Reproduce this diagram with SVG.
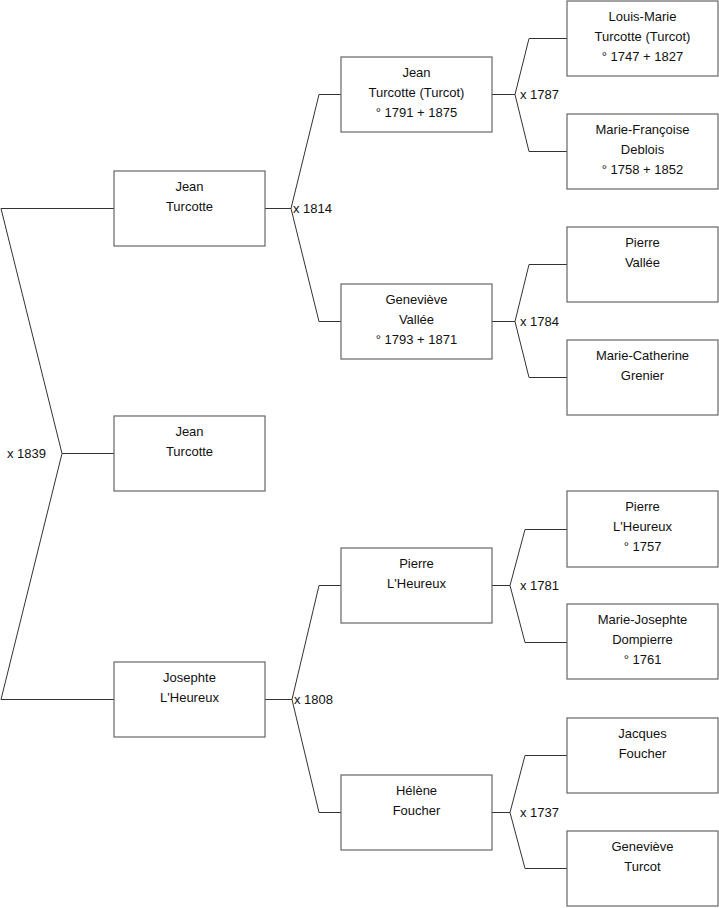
<svg xmlns="http://www.w3.org/2000/svg" width="719" height="908" viewBox="0 0 719 908">
<style>
.box{fill:#fff;stroke:#666;stroke-width:1.2}
.t{font-family:"Liberation Sans",Arial,sans-serif;font-size:13px;fill:#111;text-anchor:middle}
.l{font-family:"Liberation Sans",Arial,sans-serif;font-size:13px;fill:#111}
.c{fill:none;stroke:#333;stroke-width:1}
</style>
<rect width="719" height="908" fill="#fff"/>
<g id="connectors">
<polyline class="c" points="114,208.5 1,208.5 62,453.5 1,699.5 114,699.5"/>
<line class="c" x1="62" y1="453.5" x2="114" y2="453.5"/>
<text class="l" x="7" y="457.5">x 1839</text>
<polyline class="c" points="341,94.5 319,94.5 291,208.5 319,321.5 341,321.5"/>
<line class="c" x1="265" y1="208.5" x2="291" y2="208.5"/>
<text class="l" x="293" y="212.5">x 1814</text>
<polyline class="c" points="341,585.5 319,585.5 292,699.5 319,812.5 341,812.5"/>
<line class="c" x1="265" y1="699.5" x2="292" y2="699.5"/>
<text class="l" x="294" y="703.5">x 1808</text>
<polyline class="c" points="567,38.5 529,38.5 515,94.5 529,151.5 567,151.5"/>
<line class="c" x1="492" y1="94.5" x2="515" y2="94.5"/>
<text class="l" x="520" y="98.5">x 1787</text>
<polyline class="c" points="567,264.5 529,264.5 515,321.5 529,377.5 567,377.5"/>
<line class="c" x1="492" y1="321.5" x2="515" y2="321.5"/>
<text class="l" x="520" y="325.5">x 1784</text>
<polyline class="c" points="567,529.5 525,529.5 510,585.5 525,642.5 567,642.5"/>
<line class="c" x1="492" y1="585.5" x2="510" y2="585.5"/>
<text class="l" x="520" y="589.5">x 1781</text>
<polyline class="c" points="567,755.5 525,755.5 510,812.5 525,868.5 567,868.5"/>
<line class="c" x1="492" y1="812.5" x2="510" y2="812.5"/>
<text class="l" x="520" y="816.5">x 1737</text>
</g>
<g id="n1"><rect class="box" x="114" y="171" width="151" height="75"/><text class="t" x="189.5" y="191">Jean</text><text class="t" x="189.5" y="211">Turcotte</text></g>
<g id="n0"><rect class="box" x="114" y="416" width="151" height="75"/><text class="t" x="189.5" y="436">Jean</text><text class="t" x="189.5" y="456">Turcotte</text></g>
<g id="n2"><rect class="box" x="114" y="662" width="151" height="75"/><text class="t" x="189.5" y="682">Josephte</text><text class="t" x="189.5" y="702">L'Heureux</text></g>
<g id="n3"><rect class="box" x="341" y="57" width="151" height="75"/><text class="t" x="416.5" y="77">Jean</text><text class="t" x="416.5" y="97">Turcotte (Turcot)</text><text class="t" x="416.5" y="117">° 1791 + 1875</text></g>
<g id="n4"><rect class="box" x="341" y="284" width="151" height="75"/><text class="t" x="416.5" y="304">Geneviève</text><text class="t" x="416.5" y="324">Vallée</text><text class="t" x="416.5" y="344">° 1793 + 1871</text></g>
<g id="n5"><rect class="box" x="341" y="548" width="151" height="75"/><text class="t" x="416.5" y="568">Pierre</text><text class="t" x="416.5" y="588">L'Heureux</text></g>
<g id="n6"><rect class="box" x="341" y="775" width="151" height="75"/><text class="t" x="416.5" y="795">Hélène</text><text class="t" x="416.5" y="815">Foucher</text></g>
<g id="n7"><rect class="box" x="567" y="1" width="151" height="75"/><text class="t" x="642.5" y="21">Louis-Marie</text><text class="t" x="642.5" y="41">Turcotte (Turcot)</text><text class="t" x="642.5" y="61">° 1747 + 1827</text></g>
<g id="n8"><rect class="box" x="567" y="114" width="151" height="75"/><text class="t" x="642.5" y="134">Marie-Françoise</text><text class="t" x="642.5" y="154">Deblois</text><text class="t" x="642.5" y="174">° 1758 + 1852</text></g>
<g id="n9"><rect class="box" x="567" y="227" width="151" height="75"/><text class="t" x="642.5" y="247">Pierre</text><text class="t" x="642.5" y="267">Vallée</text></g>
<g id="n10"><rect class="box" x="567" y="340" width="151" height="75"/><text class="t" x="642.5" y="360">Marie-Catherine</text><text class="t" x="642.5" y="380">Grenier</text></g>
<g id="n11"><rect class="box" x="567" y="491" width="151" height="76"/><text class="t" x="642.5" y="511">Pierre</text><text class="t" x="642.5" y="531">L'Heureux</text><text class="t" x="642.5" y="551">° 1757</text></g>
<g id="n12"><rect class="box" x="567" y="604" width="151" height="75"/><text class="t" x="642.5" y="624">Marie-Josephte</text><text class="t" x="642.5" y="644">Dompierre</text><text class="t" x="642.5" y="664">° 1761</text></g>
<g id="n13"><rect class="box" x="567" y="718" width="151" height="75"/><text class="t" x="642.5" y="738">Jacques</text><text class="t" x="642.5" y="758">Foucher</text></g>
<g id="n14"><rect class="box" x="567" y="831" width="151" height="75"/><text class="t" x="642.5" y="851">Geneviève</text><text class="t" x="642.5" y="871">Turcot</text></g>
</svg>
